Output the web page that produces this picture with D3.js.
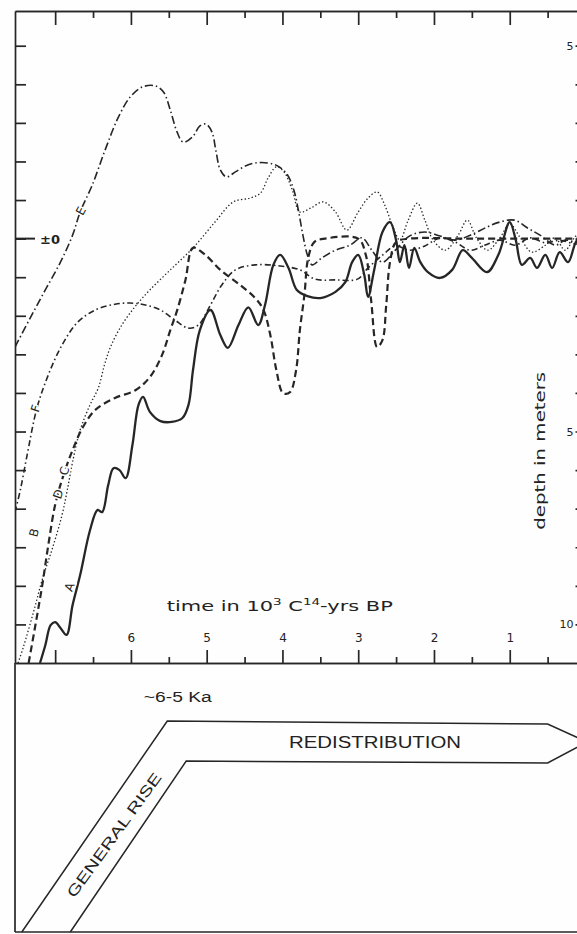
<!DOCTYPE html>
<html>
<head>
<meta charset="utf-8">
<script src="https://cdn.jsdelivr.net/npm/d3@7"></script>
<style>
html, body { margin: 0; padding: 0; background: #fff; }
svg { display: block; }
text { font-family: "DejaVu Sans", sans-serif; fill: #222; }
</style>
</head>
<body>
<svg id="chart" width="577" height="934"></svg>
<script>
// sea level curves: [time in 10^3 C14 yrs BP, level in m relative to present]
var curveA = [[7.20,-11.0],[7.13,-10.54],[7.06,-10.02],[7.00,-9.94],[6.93,-10.09],[6.85,-10.27],
  [6.77,-9.50],[6.67,-8.72],[6.54,-7.56],[6.44,-7.03],[6.38,-7.09],[6.30,-6.39],[6.23,-5.95],
  [6.15,-6.00],[6.07,-6.21],[5.98,-5.35],[5.90,-4.31],[5.84,-4.10],[5.75,-4.49],[5.61,-4.73],
  [5.46,-4.75],[5.32,-4.65],[5.24,-4.31],[5.18,-3.40],[5.09,-2.37],[4.95,-1.85],[4.82,-2.50],
  [4.72,-2.83],[4.58,-2.24],[4.45,-1.78],[4.32,-2.24],[4.23,-1.72],[4.12,-0.68],[4.03,-0.42],
  [3.92,-0.76],[3.81,-1.33],[3.67,-1.49],[3.50,-1.54],[3.30,-1.38],[3.17,-1.13],[3.08,-0.61],
  [3.00,-0.42],[2.92,-0.94],[2.87,-1.51],[2.79,-0.82],[2.68,0.17],[2.58,0.43],[2.50,-0.04],
  [2.45,-0.61],[2.39,-0.17],[2.33,-0.76],[2.26,-0.24],[2.18,-0.61],[2.08,-0.87],[1.92,-1.02],
  [1.76,-0.81],[1.62,-0.30],[1.50,-0.50],[1.30,-0.87],[1.15,-0.42],[1.00,0.43],[0.92,-0.04],
  [0.84,-0.68],[0.73,-0.50],[0.64,-0.76],[0.53,-0.42],[0.44,-0.76],[0.34,-0.35],[0.23,-0.61],
  [0.11,-0.04],[0.00,0.00]];

var curveB = [[7.35,-11.0],[7.26,-10.01],[7.17,-8.98],[7.09,-7.94],[7.00,-6.90],[6.89,-6.13],
  [6.77,-5.48],[6.64,-4.91],[6.47,-4.44],[6.21,-4.13],[5.94,-3.93],[5.75,-3.59],[5.59,-3.02],
  [5.48,-2.37],[5.39,-1.86],[5.28,-1.07],[5.18,-0.24],[5.02,-0.42],[4.82,-0.81],[4.56,-1.20],
  [4.36,-1.54],[4.25,-1.85],[4.16,-2.50],[4.08,-3.41],[3.99,-4.01],[3.90,-3.98],[3.82,-3.41],
  [3.77,-2.37],[3.71,-1.46],[3.66,-0.50],[3.58,-0.09],[3.44,0.00],[3.00,0.00],[2.90,-0.42],
  [2.83,-1.59],[2.75,-2.81],[2.68,-2.63],[2.63,-1.72],[2.58,-0.61],[2.50,-0.09],[2.32,0.00],
  [1.60,0.00],[0.80,0.00],[0.00,0.00]];

var curveC = [[7.49,-11.0],[7.42,-10.59],[7.29,-9.71],[7.16,-8.77],[7.03,-7.99],[6.91,-7.17],
  [6.84,-6.52],[6.77,-5.79],[6.67,-4.96],[6.54,-4.31],[6.43,-3.87],[6.35,-3.28],[6.27,-2.81],
  [6.12,-2.24],[5.94,-1.75],[5.75,-1.33],[5.48,-0.81],[5.18,-0.24],[4.89,0.43],[4.65,0.95],
  [4.43,1.05],[4.29,1.18],[4.19,1.57],[4.08,1.86],[3.98,1.73],[3.87,1.26],[3.77,0.69],
  [3.63,0.79],[3.46,0.95],[3.30,0.69],[3.15,0.22],[3.00,0.69],[2.87,1.05],[2.75,1.21],
  [2.65,0.87],[2.55,0.35],[2.45,-0.04],[2.34,0.48],[2.22,0.92],[2.12,0.48],[2.01,-0.04],
  [1.85,-0.30],[1.68,0.09],[1.56,0.48],[1.44,0.02],[1.29,-0.30],[1.13,0.02],[1.00,0.38],
  [0.86,0.02],[0.71,-0.35],[0.53,-0.17],[0.40,0.02],[0.27,-0.30],[0.11,0.09],[0.00,0.00]];

var curveE = [[7.53,-2.81],[7.33,-2.06],[7.13,-1.33],[6.93,-0.61],[6.77,0.09],[6.67,0.69],
  [6.51,1.39],[6.34,2.30],[6.17,3.13],[6.01,3.67],[5.85,3.93],[5.68,3.96],[5.57,3.80],
  [5.48,3.33],[5.39,2.76],[5.31,2.50],[5.19,2.63],[5.09,2.92],[5.01,2.97],[4.93,2.76],
  [4.88,2.30],[4.82,1.78],[4.74,1.60],[4.62,1.73],[4.49,1.88],[4.36,1.96],[4.19,1.96],
  [4.06,1.88],[3.94,1.67],[3.85,1.26],[3.79,0.74],[3.73,0.09],[3.67,-0.43],[3.61,-0.68],
  [3.48,-0.50],[3.30,-0.30],[3.11,-0.17],[2.95,0.02],[2.82,-0.30],[2.68,-0.61],[2.51,-0.30],
  [2.32,0.07],[2.12,0.17],[1.92,0.07],[1.72,-0.04],[1.52,0.09],[1.30,0.30],[1.13,0.43],
  [0.94,0.48],[0.76,0.27],[0.60,0.09],[0.40,-0.17],[0.27,-0.04],[0.11,-0.09],[0.00,0.00]];

var curveF = [[7.53,-7.09],[7.46,-6.52],[7.37,-5.61],[7.24,-4.39],[7.09,-3.53],[6.91,-2.76],
  [6.70,-2.16],[6.47,-1.85],[6.21,-1.70],[6.01,-1.67],[5.81,-1.72],[5.61,-1.85],[5.42,-2.11],
  [5.24,-2.32],[5.11,-2.24],[4.95,-1.72],[4.80,-1.20],[4.62,-0.81],[4.36,-0.68],[4.03,-0.71],
  [3.77,-0.81],[3.57,-1.05],[3.30,-1.07],[3.01,-1.05],[2.87,-0.76],[2.68,-0.43],[2.51,-0.19],
  [2.32,-0.30],[2.12,-0.19],[1.92,0.02],[1.72,-0.09],[1.52,-0.30],[1.33,-0.17],[1.13,-0.04],
  [0.93,-0.17],[0.73,0.02],[0.53,-0.11],[0.34,-0.04],[0.11,-0.14],[0.00,-0.04]];

// axis ticks
var xMajor = [7, 6, 5, 4, 3, 2, 1];
var xLabels = ["", "6", "5", "4", "3", "2", "1"];
var xMinor = [6.5, 5.5, 4.5, 3.5, 2.5, 1.5, 0.5];
var levelTicks = [-10,-9,-8,-7,-6,-5,-4,-3,-2,-1,0,1,2,3,4,5];
var depthTicks = [5, -5, -10];
var depthLabels = ["5", "5", "10"];

// phases (bottom panel), in 10^3 yrs BP
var riseStart = [7.44, 6.80];   // outer / inner foot of the rise band
var riseEnd = [5.52, 5.27];     // outer / inner corner, ~6-5 Ka
var redistEnd = 0.5;            // start of arrow head
var arrowTip = -0.02;

var svg = d3.select("#chart");
var ink = "#262626";

var x = d3.scaleLinear().domain([7.53, 0]).range([15, 585.5]);
var y = d3.scaleLinear().domain([-11, 5.9]).range([663, 11]);

svg.append("rect").attr("width", 577).attr("height", 934).attr("fill", "#fefefe");

svg.append("defs").append("clipPath").attr("id", "plot")
  .append("rect").attr("x", 15).attr("y", 11).attr("width", 571).attr("height", 652);

/***** axes *****/
function styleAxis(g){
  g.selectAll("path, line").attr("stroke", ink).attr("stroke-width", 1.7);
  g.selectAll("text").attr("fill", ink).style("font-family", "DejaVu Sans, sans-serif");
}

// bottom time axis (ticks pointing up)
svg.append("g").attr("transform", "translate(0,663)")
  .call(d3.axisTop(x).tickValues(xMajor).tickSize(13).tickSizeOuter(0).tickPadding(8)
    .tickFormat(function(d, i){ return xLabels[i]; }))
  .call(styleAxis)
  .selectAll("text").style("font-size", "12px");

svg.append("g").attr("transform", "translate(0,663)")
  .call(d3.axisTop(x).tickValues(xMinor).tickSize(6).tickSizeOuter(0).tickFormat(""))
  .call(styleAxis);

// top axis
svg.append("g").attr("transform", "translate(0,11)")
  .call(d3.axisBottom(x).tickValues(xMajor).tickSize(14).tickSizeOuter(0).tickFormat(""))
  .call(styleAxis);
svg.append("g").attr("transform", "translate(0,11)")
  .call(d3.axisBottom(x).tickValues(xMinor).tickSize(7).tickSizeOuter(0).tickFormat(""))
  .call(styleAxis);

// left level axis
svg.append("g").attr("transform", "translate(15,0)")
  .call(d3.axisRight(y).tickValues(levelTicks).tickSize(11).tickSizeOuter(0).tickFormat(""))
  .call(styleAxis);
svg.append("line").attr("x1", 15).attr("x2", 35).attr("y1", y(0)).attr("y2", y(0))
  .attr("stroke", ink).attr("stroke-width", 2);
svg.append("text").attr("x", 40).attr("y", y(0) + 5).text("±0")
  .style("font-size", "13px").style("font-weight", "bold");

// right depth axis (axis line itself lies just beyond the picture)
var rightAxis = svg.append("g").attr("transform", "translate(585.5,0)")
  .call(d3.axisLeft(y).tickValues(levelTicks).tickSize(10).tickSizeOuter(0).tickPadding(2)
    .tickFormat(function(d){ var i = depthTicks.indexOf(d); return i < 0 ? "" : depthLabels[i]; }))
  .call(styleAxis);
rightAxis.selectAll("text").style("font-size", "11px");

svg.append("text")
  .attr("transform", "translate(545," + y(-5.5) + ") rotate(-90)")
  .attr("text-anchor", "middle")
  .attr("textLength", 158).attr("lengthAdjust", "spacingAndGlyphs")
  .style("font-size", "14px")
  .text("depth in meters");

// time label
var tl = svg.append("text").attr("x", x(5.5) - 2).attr("y", 611)
  .attr("textLength", 226).attr("lengthAdjust", "spacingAndGlyphs")
  .style("font-size", "14px");
tl.append("tspan").text("time  in  10");
tl.append("tspan").attr("dy", -6).style("font-size", "9px").text("3");
tl.append("tspan").attr("dy", 6).text("  C");
tl.append("tspan").attr("dy", -6).style("font-size", "9px").text("14");
tl.append("tspan").attr("dy", 6).text("-yrs  BP");

/***** curves *****/
var line = d3.line()
  .x(function(d){ return x(d[0]); })
  .y(function(d){ return y(d[1]); })
  .curve(d3.curveCatmullRom.alpha(0.5));

var curves = [
  {name: "F", data: curveF, w: 1.6, dash: "6,3,1.5,3"},
  {name: "E", data: curveE, w: 1.6, dash: "8,3,1.5,3"},
  {name: "C", data: curveC, w: 1.3, dash: "1.4,2.2"},
  {name: "B", data: curveB, w: 2.2, dash: "7,4"},
  {name: "A", data: curveA, w: 2.3, dash: null}
];

var cg = svg.append("g").attr("clip-path", "url(#plot)");
cg.selectAll("path.curve").data(curves).enter().append("path")
  .attr("class", "curve")
  .attr("d", function(d){ return line(d.data); })
  .attr("fill", "none")
  .attr("stroke", ink)
  .attr("stroke-width", function(d){ return d.w; })
  .attr("stroke-dasharray", function(d){ return d.dash; })
  .attr("stroke-linejoin", "round");

// letters written along the curves
var curveLabels = [
  {txt: "E", t: 6.66, v: 0.72, a: -62},
  {txt: "F", t: 7.26, v: -4.40, a: -72},
  {txt: "C", t: 6.88, v: -6.02, a: -72},
  {txt: "D", t: 6.96, v: -6.62, a: -72},
  {txt: "B", t: 7.28, v: -7.62, a: -75},
  {txt: "A", t: 6.81, v: -9.03, a: -70}
];
svg.selectAll("text.clab").data(curveLabels).enter().append("text")
  .attr("class", "clab")
  .attr("transform", function(d){ return "translate(" + x(d.t) + "," + y(d.v) + ") rotate(" + d.a + ")"; })
  .attr("text-anchor", "middle").attr("dy", "0.35em")
  .style("font-size", "12px")
  .style("paint-order", "stroke").attr("stroke", "#fefefe").attr("stroke-width", 3)
  .text(function(d){ return d.txt; });

/***** bottom panel *****/
svg.append("line").attr("x1", 15).attr("x2", 15).attr("y1", 663).attr("y2", 932)
  .attr("stroke", ink).attr("stroke-width", 1.7);
svg.append("line").attr("x1", 15).attr("x2", 577).attr("y1", 932).attr("y2", 932)
  .attr("stroke", ink).attr("stroke-width", 1.7);

var arrow = d3.path();
arrow.moveTo(x(riseStart[0]), 932);
arrow.lineTo(x(riseEnd[0]), 721);
arrow.lineTo(x(redistEnd), 724);
arrow.lineTo(x(arrowTip), 742);
arrow.lineTo(x(redistEnd), 763);
arrow.lineTo(x(riseEnd[1]), 761);
arrow.lineTo(x(riseStart[1]), 932);
svg.append("path").attr("d", arrow.toString())
  .attr("fill", "none").attr("stroke", ink).attr("stroke-width", 1.5)
  .attr("stroke-linejoin", "miter");

svg.append("text").attr("x", x(5.83)).attr("y", 702)
  .style("font-family", "Liberation Sans, Arial, sans-serif").style("font-size", "14px")
  .attr("textLength", 68).attr("lengthAdjust", "spacingAndGlyphs")
  .text("~6-5 Ka");

svg.append("text").attr("x", 375).attr("y", 748).attr("text-anchor", "middle")
  .style("font-family", "Liberation Sans, Arial, sans-serif").style("font-size", "16px")
  .attr("textLength", 172).attr("lengthAdjust", "spacingAndGlyphs")
  .text("REDISTRIBUTION");

svg.append("text")
  .attr("transform", "translate(114,835) rotate(-54)")
  .attr("text-anchor", "middle").attr("dy", "0.35em")
  .style("font-family", "Liberation Sans, Arial, sans-serif").style("font-size", "15px")
  .attr("textLength", 150).attr("lengthAdjust", "spacingAndGlyphs")
  .text("GENERAL RISE");
</script>
</body>
</html>
